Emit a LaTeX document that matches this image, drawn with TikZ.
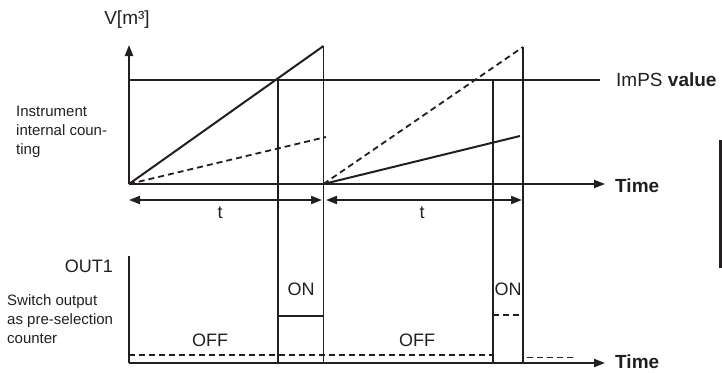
\documentclass[tikz,border=0pt]{standalone}
\usepackage{fontspec}
\setmainfont{Liberation Sans}
\usetikzlibrary{arrows.meta}
\definecolor{ink}{HTML}{231F20}
\begin{document}
\begin{tikzpicture}[x=1pt,y=-1pt,
  thick line/.style={line width=2pt, draw=ink},
  med line/.style={line width=1.6pt, draw=ink},
  thin line/.style={line width=1.3pt, draw=ink},
  dash line/.style={line width=1.8pt, draw=ink, dash pattern=on 6pt off 4pt},
  tip/.style={-{Triangle[length=11pt,width=8pt]}},
  dtip/.style={{Triangle[length=11pt,width=8pt]}-{Triangle[length=11pt,width=8pt]}},
  side/.style={font=\fontsize{15}{19}\selectfont, align=left, inner sep=0pt, text=ink},
  big/.style={font=\fontsize{19}{22}\selectfont, inner sep=0pt, text=ink},
  mid/.style={font=\fontsize{18}{21}\selectfont, inner sep=0pt, text=ink},
]
\useasboundingbox (0,0) rectangle (722,372);

% coordinates
\coordinate (O1) at (129,184);
\coordinate (Ytip) at (129,45);
\coordinate (Xtip) at (605,184);
\coordinate (ImL) at (129,80);
\coordinate (ImR) at (600,80);
\coordinate (P1) at (323.5,46);
\coordinate (I1) at (278,80);
\coordinate (D1) at (326,137);
\coordinate (O2) at (323.5,184);
\coordinate (D2) at (523,47);
\coordinate (S2) at (520,136);
\coordinate (I2) at (493,80);
\coordinate (B0) at (129,256);
\coordinate (BO) at (129,363);
\coordinate (BX) at (605,363);
\coordinate (V1b) at (278,363);
\coordinate (V2b) at (323.5,363);
\coordinate (V3b) at (493,363);
\coordinate (V4b) at (523,363);
\coordinate (A1l) at (129,200);
\coordinate (A1r) at (322,200);
\coordinate (A2l) at (326,200);
\coordinate (A2r) at (522,200);
\coordinate (Off1l) at (129,355);
\coordinate (Off1r) at (493,355);
\coordinate (Off2l) at (527,357.5);
\coordinate (Off2r) at (574,357.5);
\coordinate (On1l) at (278,316);
\coordinate (On1r) at (323.5,316);
\coordinate (On2l) at (493,315);
\coordinate (On2r) at (523,315);
\coordinate (Bar1) at (720.5,140);
\coordinate (Bar2) at (720.5,268);

% top graph
\draw[med line] (ImL) -- (ImR);
\draw[thick line, tip] (O1) -- (Ytip);
\draw[thick line, tip] (O1) -- (Xtip);
\draw[thick line] (O1) -- (P1);
\draw[dash line] (O1) -- (D1);
\draw[dash line] (O2) -- (D2);
\draw[thick line] (O2) -- (S2);

% verticals
\draw[thin line] (I1) -- (V1b);
\draw[thin line] (P1) -- (V2b);
\draw[thin line] (I2) -- (V3b);
\draw[thin line] (D2) -- (V4b);

% period arrows
\draw[thick line, dtip] (A1l) -- (A1r);
\draw[thick line, dtip] (A2l) -- (A2r);

% bottom graph
\draw[thick line] (B0) -- (BO);
\draw[thick line, tip] (BO) -- (BX);
\draw[dash line] (Off1l) -- (Off1r);
\draw[dash line] (Off2l) -- (Off2r);
\draw[med line] (On1l) -- (On1r);
\draw[dash line] (On2l) -- (On2r);

% right bar
\draw[line width=2.6pt, draw=ink] (Bar1) -- (Bar2);

% labels
\node[big] (vlab) at (127,20) {V[m³]};
\node[side, anchor=west] (instr) at (16,132) {Instrument\\internal coun-\\ting};
\node[big, anchor=west] (imps) at (616,80) {ImPS \textbf{value}};
\node[big, anchor=west] (time1) at (615,186) {\textbf{Time}};
\node[big, anchor=west] (time2) at (615,362) {\textbf{Time}};
\node[mid] (t1) at (220,213) {t};
\node[mid] (t2) at (422,213) {t};
\node[mid, anchor=east] (out1) at (113,266) {OUT1};
\node[side, anchor=west] (switch) at (7,319) {Switch output\\as pre-selection\\counter};
\node[mid] (off1) at (210,340) {OFF};
\node[mid] (off2) at (417,340) {OFF};
\node[mid] (on1) at (301,289) {ON};
\node[mid] (on2) at (508,289) {ON};
\end{tikzpicture}
\end{document}
